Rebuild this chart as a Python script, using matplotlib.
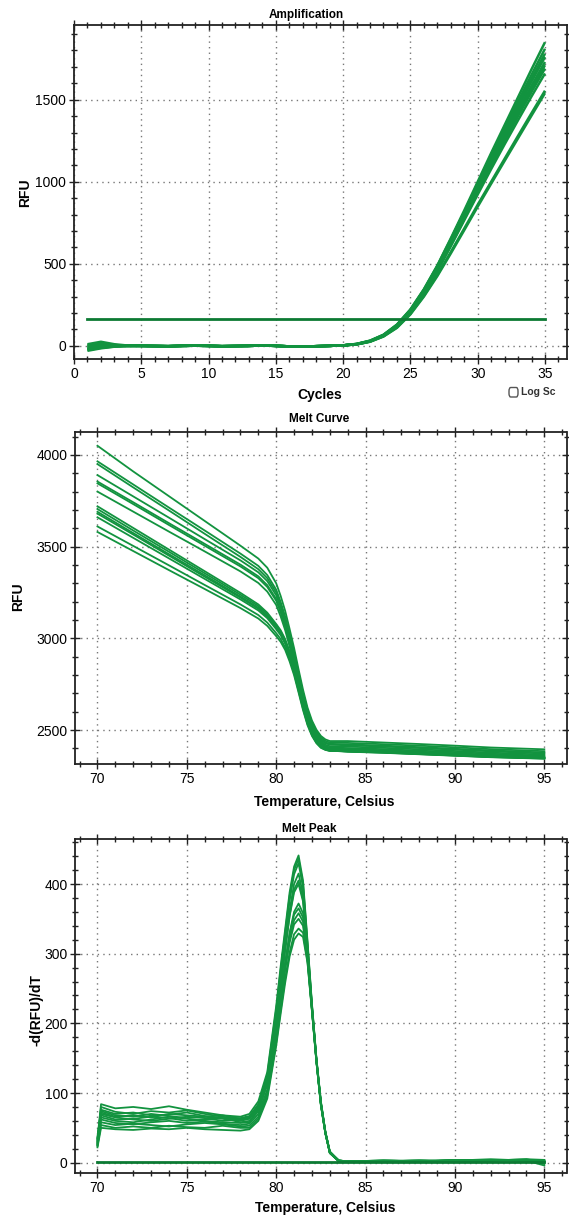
import numpy as np
import matplotlib.pyplot as plt
from matplotlib.ticker import MultipleLocator
from matplotlib.patches import FancyBboxPatch

plt.rcParams['font.family'] = ['Liberation Sans', 'DejaVu Sans']

# ---- amplification ----
cycles = list(range(1, 36))
amp_threshold = 163
# cycles 1-4, per well
amp_start = [
    [-30, -15, -5, 0], [10, 25, 10, 2], [-20, -10, -3, 0], [0, 15, 5, 0],
    [-10, 0, 2, 0], [-25, -12, -4, 0], [5, 10, 3, 0], [-15, -5, 0, 0],
    [-5, 5, 2, 0], [-20, -8, -2, 0],
]
# cycles 5-20, shared baseline
amp_base = [0, -1, -2, 0, 1, 0, -2, -1, 0, 2, 0, -3, -4, -2, 0, 3]
# cycles 21-35, per well
amp_rise = [
    [12, 32, 68, 130, 222, 345, 490, 655, 825, 1000, 1175, 1345, 1515, 1685, 1850],
    [11, 30, 66, 127, 218, 340, 485, 648, 815, 988, 1160, 1325, 1490, 1652, 1810],
    [12, 31, 67, 128, 220, 342, 486, 647, 812, 980, 1148, 1312, 1470, 1628, 1780],
    [10, 28, 62, 120, 208, 328, 470, 630, 795, 962, 1130, 1295, 1455, 1610, 1760],
    [11, 29, 64, 124, 212, 332, 474, 632, 795, 958, 1120, 1280, 1435, 1585, 1730],
    [10, 28, 63, 122, 210, 328, 468, 625, 785, 948, 1108, 1265, 1418, 1566, 1710],
    [9, 27, 60, 118, 204, 320, 458, 612, 772, 933, 1092, 1248, 1400, 1547, 1690],
    [10, 27, 61, 118, 203, 318, 455, 607, 765, 922, 1077, 1228, 1375, 1520, 1660],
    [9, 26, 58, 112, 195, 305, 432, 572, 715, 860, 1000, 1140, 1280, 1418, 1555],
    [9, 25, 57, 110, 192, 300, 425, 563, 705, 848, 988, 1127, 1265, 1403, 1540],
]

# ---- melt curve ----
melt_temps = [70, 72, 74, 76, 78, 79, 79.5, 80, 80.25, 80.5, 80.75, 81, 81.25, 81.5,
              81.75, 82, 82.25, 82.5, 82.75, 83, 84, 86, 88, 90, 92, 95]
melt_rfu = [
    [4050, 3910, 3775, 3640, 3505, 3435, 3385, 3300, 3231, 3150, 3051, 2947, 2831, 2720, 2623, 2552, 2502, 2468, 2449, 2440, 2440, 2432, 2424, 2415, 2405, 2395],
    [3965, 3839, 3713, 3588, 3462, 3395, 3345, 3265, 3198, 3119, 3023, 2923, 2811, 2703, 2609, 2540, 2492, 2459, 2441, 2432, 2430, 2423, 2415, 2406, 2396, 2385],
    [3950, 3823, 3697, 3570, 3444, 3377, 3328, 3250, 3184, 3106, 3011, 2912, 2800, 2693, 2601, 2532, 2484, 2451, 2433, 2425, 2422, 2415, 2407, 2398, 2389, 2378],
    [3890, 3774, 3658, 3541, 3425, 3360, 3312, 3235, 3170, 3092, 2999, 2901, 2791, 2685, 2594, 2526, 2479, 2446, 2428, 2420, 2417, 2410, 2402, 2393, 2384, 2372],
    [3855, 3742, 3628, 3515, 3402, 3338, 3290, 3215, 3151, 3074, 2982, 2886, 2777, 2673, 2583, 2516, 2470, 2438, 2420, 2412, 2410, 2403, 2395, 2386, 2377, 2366],
    [3845, 3732, 3618, 3505, 3392, 3328, 3280, 3205, 3141, 3065, 2973, 2877, 2769, 2665, 2575, 2509, 2463, 2431, 2413, 2405, 2402, 2396, 2388, 2380, 2371, 2360],
    [3800, 3691, 3582, 3474, 3365, 3302, 3255, 3182, 3119, 3045, 2955, 2861, 2756, 2654, 2566, 2500, 2456, 2425, 2408, 2400, 2396, 2390, 2382, 2374, 2365, 2355],
    [3720, 3602, 3484, 3366, 3248, 3185, 3140, 3078, 3044, 2996, 2928, 2847, 2745, 2643, 2554, 2490, 2446, 2418, 2405, 2398, 2392, 2386, 2378, 2370, 2361, 2352],
    [3705, 3588, 3472, 3355, 3238, 3176, 3132, 3070, 3036, 2989, 2922, 2841, 2739, 2638, 2550, 2486, 2443, 2415, 2402, 2395, 2388, 2382, 2374, 2366, 2358, 2350],
    [3690, 3574, 3459, 3344, 3228, 3167, 3123, 3062, 3029, 2982, 2915, 2834, 2734, 2633, 2546, 2482, 2439, 2412, 2399, 2392, 2385, 2379, 2371, 2363, 2355, 2347],
    [3680, 3566, 3451, 3336, 3222, 3161, 3118, 3058, 3025, 2978, 2911, 2831, 2731, 2630, 2544, 2480, 2437, 2410, 2397, 2390, 2383, 2377, 2369, 2361, 2353, 2345],
    [3660, 3548, 3436, 3324, 3212, 3152, 3110, 3050, 3017, 2971, 2904, 2825, 2726, 2626, 2540, 2477, 2434, 2408, 2395, 2388, 2382, 2376, 2368, 2360, 2352, 2344],
    [3610, 3504, 3398, 3291, 3185, 3127, 3086, 3028, 2996, 2951, 2887, 2810, 2714, 2617, 2533, 2473, 2432, 2406, 2393, 2387, 2384, 2378, 2370, 2362, 2354, 2346],
    [3580, 3476, 3372, 3269, 3165, 3108, 3068, 3012, 2981, 2937, 2874, 2799, 2705, 2609, 2527, 2468, 2428, 2403, 2392, 2386, 2385, 2380, 2372, 2364, 2356, 2348],
]

# ---- melt peak ----
peak_temps = [70.0, 70.2, 71, 72, 73, 74, 75, 76, 77, 78, 78.5, 79, 79.5, 80, 80.25, 80.5,
              80.75, 81, 81.25, 81.5, 81.75, 82, 82.25, 82.5, 82.75, 83, 83.5, 84,
              86, 88, 90, 92, 94, 95]
peak_vals = [
    [35, 84, 78, 80, 77, 81, 76, 72, 68, 66, 70, 88, 130, 225, 282, 335, 388, 425, 441, 405, 318, 228, 150, 88, 45, 16, 3, 2, 3, 2, 4, 3, 5, 4],
    [30, 80, 73, 70, 74, 72, 75, 70, 66, 62, 66, 84, 126, 220, 277, 330, 383, 420, 436, 400, 315, 226, 149, 87, 44, 16, 3, 2, 2, 3, 3, 4, 4, 2],
    [28, 72, 66, 68, 65, 70, 68, 66, 63, 60, 63, 80, 122, 214, 271, 325, 376, 414, 430, 395, 312, 225, 148, 86, 44, 15, 3, 2, 3, 2, 3, 5, 3, 1],
    [32, 68, 62, 63, 66, 64, 60, 62, 64, 58, 60, 76, 116, 205, 260, 312, 362, 400, 415, 385, 308, 224, 148, 86, 44, 15, 3, 2, 2, 3, 2, 4, 4, 3],
    [26, 65, 60, 58, 62, 66, 63, 60, 58, 57, 58, 74, 112, 200, 254, 305, 355, 392, 405, 378, 305, 223, 147, 85, 43, 15, 3, 1, 3, 2, 3, 3, 5, 0],
    [34, 76, 70, 72, 68, 69, 72, 67, 64, 64, 67, 82, 120, 206, 257, 306, 354, 388, 400, 375, 303, 222, 147, 85, 43, 15, 3, 2, 2, 2, 4, 3, 3, 2],
    [27, 62, 57, 55, 58, 60, 57, 59, 56, 54, 56, 70, 105, 188, 238, 285, 330, 360, 372, 358, 298, 221, 146, 84, 43, 14, 3, 2, 3, 3, 2, 4, 4, -2],
    [30, 70, 65, 62, 60, 63, 66, 64, 60, 62, 64, 78, 114, 195, 243, 288, 328, 356, 365, 352, 296, 220, 146, 84, 43, 14, 3, 2, 2, 2, 3, 4, 3, 1],
    [24, 58, 54, 56, 54, 52, 55, 57, 55, 52, 53, 66, 100, 180, 229, 276, 320, 348, 358, 346, 294, 220, 146, 84, 43, 14, 2, 2, 3, 2, 3, 3, 4, 3],
    [36, 74, 68, 66, 70, 67, 64, 66, 68, 63, 65, 80, 115, 192, 237, 280, 316, 342, 350, 340, 292, 219, 145, 83, 42, 14, 2, 2, 2, 3, 2, 4, 3, -4],
    [25, 54, 50, 52, 50, 53, 51, 50, 53, 50, 50, 63, 96, 172, 219, 264, 302, 328, 336, 330, 289, 218, 145, 83, 42, 14, 2, 1, 2, 2, 3, 3, 4, 2],
    [22, 50, 48, 47, 49, 48, 50, 48, 47, 46, 48, 60, 92, 168, 214, 258, 296, 320, 329, 324, 287, 217, 144, 82, 42, 14, 2, 1, 2, 3, 2, 4, 3, 1],
]
peak_zero_temps = [70, 95]
peak_zero_vals = [1, 1]

green = '#12933f'
dark_green = '#0c7a33'
W, H = 569, 1217


def style(ax, xmaj, xmin, ymaj, ymin):
    ax.xaxis.set_major_locator(MultipleLocator(xmaj))
    ax.xaxis.set_minor_locator(MultipleLocator(xmin))
    ax.yaxis.set_major_locator(MultipleLocator(ymaj))
    ax.yaxis.set_minor_locator(MultipleLocator(ymin))
    ax.tick_params(which='both', direction='inout', top=True, right=True,
                   color='#222222', width=1.0)
    ax.tick_params(which='major', length=7, labelsize=10, pad=2)
    ax.tick_params(which='minor', length=4)
    for s in ax.spines.values():
        s.set_linewidth(1.3)
        s.set_color('#222222')
    ax.grid(True, which='major', color='#777777', linestyle=(0, (1, 3)), linewidth=1.0)


fig = plt.figure(figsize=(W / 100, H / 100), dpi=100)
ax1 = fig.add_axes([74 / W, 1 - 359 / H, (566.5 - 74) / W, (359 - 25) / H])
ax2 = fig.add_axes([75.3 / W, 1 - 764 / H, (566.5 - 75.3) / W, (764 - 432) / H])
ax3 = fig.add_axes([75.3 / W, 1 - 1173 / H, (566.5 - 75.3) / W, (1173 - 839) / H])

# amplification
for start, rise in zip(amp_start, amp_rise):
    ax1.plot(cycles, start + amp_base + rise, color=green, lw=1.8, solid_capstyle='butt')
ax1.plot([cycles[0], cycles[-1]], [amp_threshold, amp_threshold], color=dark_green, lw=2.0)
ax1.set_xlim(0, 36.6)
ax1.set_ylim(-80, 1955)
style(ax1, 5, 1, 500, 100)

# melt curve
for vals in melt_rfu:
    ax2.plot(melt_temps, vals, color=green, lw=1.3)
ax2.set_xlim(68.76, 96.24)
ax2.set_ylim(2315, 4125)
style(ax2, 5, 1, 500, 100)

# melt peak
for vals in peak_vals:
    ax3.plot(peak_temps, vals, color=green, lw=1.3)
ax3.plot(peak_zero_temps, peak_zero_vals, color=dark_green, lw=2.0)
ax3.set_xlim(68.76, 96.24)
ax3.set_ylim(-14.8, 464.6)
style(ax3, 5, 1, 100, 20)

# titles and labels
def ftext(x, y, s, **kw):
    fig.text(x / W, 1 - y / H, s, ha='center', va='center', **kw)

ftext(306, 15, 'Amplification', fontsize=8.5, fontweight='bold')
ftext(319, 419, 'Melt Curve', fontsize=8.5, fontweight='bold')
ftext(309, 829, 'Melt Peak', fontsize=8.5, fontweight='bold')
ftext(25, 193, 'RFU', fontsize=10, fontweight='bold', rotation=90)
ftext(18, 597, 'RFU', fontsize=10, fontweight='bold', rotation=90)
ftext(36, 1010, '-d(RFU)/dT', fontsize=10, fontweight='bold', rotation=90)
ftext(320, 395, 'Cycles', fontsize=10, fontweight='bold')
ftext(324, 802, 'Temperature, Celsius', fontsize=10, fontweight='bold')
ftext(325, 1208, 'Temperature, Celsius', fontsize=10, fontweight='bold')

# Log scale checkbox
box = FancyBboxPatch((509 / W, 1 - 397 / H), 9 / W, 9.5 / H,
                     boxstyle='round,pad=0,rounding_size=0.003',
                     transform=fig.transFigure, facecolor='white',
                     edgecolor='#555555', linewidth=1.0)
fig.patches.append(box)
fig.text(521 / W, 1 - 392 / H, 'Log Sc', ha='left', va='center', fontsize=7.5,
         fontweight='bold', color='#333333')

fig.savefig('out.png', dpi=100)
